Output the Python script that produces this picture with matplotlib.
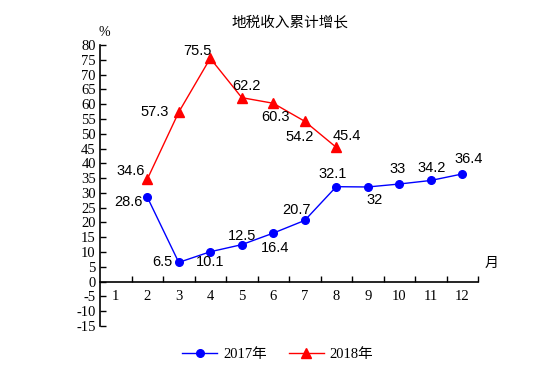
import matplotlib
matplotlib.use("Agg")
import matplotlib.pyplot as plt

months = list(range(1, 13))
m2017 = [2, 3, 4, 5, 6, 7, 8, 9, 10, 11, 12]
v2017 = [28.6, 6.5, 10.1, 12.5, 16.4, 20.7, 32.1, 32, 33, 34.2, 36.4]
m2018 = [2, 3, 4, 5, 6, 7, 8]
v2018 = [34.6, 57.3, 75.5, 62.2, 60.3, 54.2, 45.4]
lab2017 = ["28.6", "6.5", "10.1", "12.5", "16.4", "20.7", "32.1", "32", "33", "34.2", "36.4"]
lab2018 = ["34.6", "57.3", "75.5", "62.2", "60.3", "54.2", "45.4"]
yticks = list(range(-15, 85, 5))

off2017 = [(-19, -5), (-16, 0), (0, -10), (0, 9), (2, -15), (-8, 10), (-4, 13), (7, -13), (-2, 15), (1, 12), (6, 15)]
off2018 = [(-17, 8), (-24, 0), (-13, 7), (5, 12), (2, -14), (-5, -16), (11, 11)]

W, H = 555, 391
fig = plt.figure(figsize=(W / 100, H / 100), dpi=100)
ax_l, ax_r, ax_t, ax_b = 100, 478, 45, 326
ax = fig.add_axes([ax_l / W, 1 - ax_b / H, (ax_r - ax_l) / W, (ax_b - ax_t) / H])

ax.plot(m2017, v2017, color="#0000ff", lw=1, marker="o", ms=5.5, label="2017年")
ax.plot(m2018, v2018, color="#ff0000", lw=1, marker="^", ms=6.5, label="2018年")

sans = "Liberation Sans"
for x, y, t, (dx, dy) in zip(m2017, v2017, lab2017, off2017):
    ax.annotate(t, (x, y), xytext=(dx * 0.72, dy * 0.72), textcoords="offset points",
                ha="center", va="center", fontsize=10.5, family=sans, color="black")
for x, y, t, (dx, dy) in zip(m2018, v2018, lab2018, off2018):
    ax.annotate(t, (x, y), xytext=(dx * 0.72, dy * 0.72), textcoords="offset points",
                ha="center", va="center", fontsize=10.5, family=sans, color="black")

ax.set_xlim(0.5, 12.5)
ax.set_ylim(-15, 80)
ax.spines["top"].set_visible(False)
ax.spines["right"].set_visible(False)
ax.spines["bottom"].set_position(("data", 0))
ax.spines["left"].set_linewidth(1.2)
ax.spines["bottom"].set_linewidth(1.2)

ax.set_yticks(yticks)
ax.set_yticklabels([str(v) for v in yticks], family="Liberation Serif", fontsize=10.5)
ax.tick_params(axis="y", direction="in", length=4, width=1, pad=3)

ax.set_xticks([m + 0.5 for m in months])
ax.set_xticklabels([])
ax.set_xticks(months, minor=True)
ax.set_xticklabels([str(m) for m in months], minor=True, family="Liberation Serif", fontsize=10.5)
ax.tick_params(axis="x", which="major", direction="in", length=4, width=1)
ax.tick_params(axis="x", which="minor", length=0, pad=6)

fig.text(290 / W, 1 - 22 / H, "地税收入累计增长", ha="center", va="center",
         family=["Noto Sans CJK SC"], fontsize=10.5)
fig.text(104 / W, 1 - 33 / H, "%", ha="center", va="center", family="Liberation Serif", fontsize=10)
fig.text(492 / W, 1 - 263 / H, "月", ha="center", va="center", family=["Noto Sans CJK SC"], fontsize=10)

leg = fig.legend(loc="center", bbox_to_anchor=(278 / W, 1 - 354 / H), ncol=2, frameon=False,
                 prop={"family": ["Liberation Serif", "Noto Sans CJK SC"], "size": 10.5},
                 handlelength=2.4, columnspacing=1.5, handletextpad=0.4)

fig.savefig("out.png", dpi=100)
